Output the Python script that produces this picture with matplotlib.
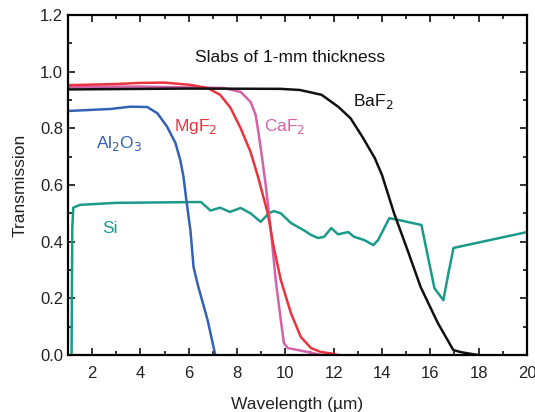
import matplotlib
matplotlib.use("Agg")
import matplotlib.pyplot as plt
from matplotlib.ticker import MultipleLocator, FormatStrFormatter

plt.rcParams['font.family'] = ['Liberation Sans', 'DejaVu Sans']

# BaF2
baf2_x = [1, 6, 9.8, 10.6, 11.5, 12.2, 12.7, 13.2, 13.7, 14.0, 14.5, 15.1, 15.6, 16.3, 16.95, 17.3, 18.0]
baf2_y = [0.937, 0.94, 0.939, 0.935, 0.918, 0.875, 0.835, 0.768, 0.695, 0.635, 0.50, 0.36, 0.24, 0.115, 0.018, 0.01, 0.0]

# MgF2
mgf2_x = [1, 3, 4.0, 5.0, 6.07, 6.78, 7.3, 7.73, 8.15, 8.56, 8.88, 9.27, 9.52, 9.81, 10.23, 10.64,
          11.06, 11.47, 11.9, 12.2]
mgf2_y = [0.952, 0.956, 0.96, 0.961, 0.953, 0.942, 0.918, 0.872, 0.80, 0.716, 0.625, 0.50, 0.38, 0.265,
          0.148, 0.064, 0.025, 0.011, 0.006, 0.0]

# CaF2
caf2_x = [1, 4, 7.44, 8.15, 8.56, 8.77, 8.9, 9.06, 9.2, 9.4, 9.6, 9.81, 9.94, 10.1, 10.93, 11.5]
caf2_y = [0.946, 0.947, 0.942, 0.928, 0.893, 0.847, 0.777, 0.68, 0.59, 0.44, 0.265, 0.124, 0.042, 0.025, 0.011, 0.0]

# Al2O3
al2o3_x = [1, 2.75, 3.58, 4.28, 4.7, 5.1, 5.45, 5.65, 5.78, 5.9, 6.07, 6.2, 6.4, 6.78, 7.1]
al2o3_y = [0.861, 0.868, 0.876, 0.875, 0.853, 0.806, 0.748, 0.688, 0.63, 0.547, 0.44, 0.31, 0.24, 0.124, 0.0]

# Si
si_x = [1.15, 1.18, 1.22, 1.5, 3, 6.5, 6.9, 7.3, 7.7, 8.15, 8.56, 8.98, 9.31, 9.52, 9.81, 10.23,
        10.52, 10.77, 11.06, 11.35, 11.6, 11.9, 12.18, 12.6, 12.85, 13.26, 13.64, 13.84, 14.3,
        14.72, 15.63, 16.17, 16.54, 16.75, 16.96, 17.5, 20.0]
si_y = [0.0, 0.45, 0.52, 0.53, 0.537, 0.54, 0.51, 0.52, 0.505, 0.519, 0.50, 0.47, 0.50, 0.508, 0.50,
        0.466, 0.452, 0.44, 0.424, 0.413, 0.417, 0.448, 0.426, 0.434, 0.417, 0.406, 0.388, 0.406,
        0.483, 0.476, 0.459, 0.236, 0.194, 0.29, 0.378, 0.388, 0.434]

fig = plt.figure(figsize=(5.35, 4.12), dpi=100)
ax = fig.add_axes([0.127, 0.138, 0.858, 0.826])

lw = 1.8
ax.plot(si_x, si_y, color='#1b9a8a', lw=lw, solid_joinstyle='round')
ax.plot(al2o3_x, al2o3_y, color='#3461b5', lw=lw, solid_joinstyle='round')
ax.plot(caf2_x, caf2_y, color='#d462a8', lw=lw, solid_joinstyle='round')
ax.plot(mgf2_x, mgf2_y, color='#e9343f', lw=lw, solid_joinstyle='round')
ax.plot(baf2_x, baf2_y, color='#111111', lw=lw, solid_joinstyle='round')

ax.set_xlim(1, 20)
ax.set_ylim(0, 1.2)
ax.xaxis.set_major_locator(MultipleLocator(2))
ax.xaxis.set_minor_locator(MultipleLocator(1))
ax.yaxis.set_major_locator(MultipleLocator(0.2))
ax.yaxis.set_minor_locator(MultipleLocator(0.1))
ax.yaxis.set_major_formatter(FormatStrFormatter('%.1f'))
ax.tick_params(which='both', direction='in', top=True, right=True, width=1.3,
               labelsize=12, colors='#222222')
ax.tick_params(axis='x', which='both', pad=8)
ax.tick_params(which='major', length=5)
ax.tick_params(which='minor', length=3)
for s in ax.spines.values():
    s.set_linewidth(1.6)

ax.set_xlabel('Wavelength (µm)', fontsize=12.5, color='#222222', labelpad=11)
ax.set_ylabel('Transmission', fontsize=12.5, color='#222222', labelpad=9)

fs = 12.5
ax.text(10.2, 1.05, 'Slabs of 1-mm thickness', fontsize=fs, ha='center', va='center', color='#111111')
ax.text(12.8, 0.893, 'BaF$_2$', fontsize=fs, color='#111111', va='center')
ax.text(9.1, 0.805, 'CaF$_2$', fontsize=fs, color='#d462a8', va='center')
ax.text(5.4, 0.805, 'MgF$_2$', fontsize=fs, color='#e9343f', va='center')
ax.text(2.15, 0.745, 'Al$_2$O$_3$', fontsize=fs, color='#3461b5', va='center')
ax.text(2.4, 0.445, 'Si', fontsize=fs, color='#1b9a8a', va='center')

fig.savefig('out.png', dpi=100)
